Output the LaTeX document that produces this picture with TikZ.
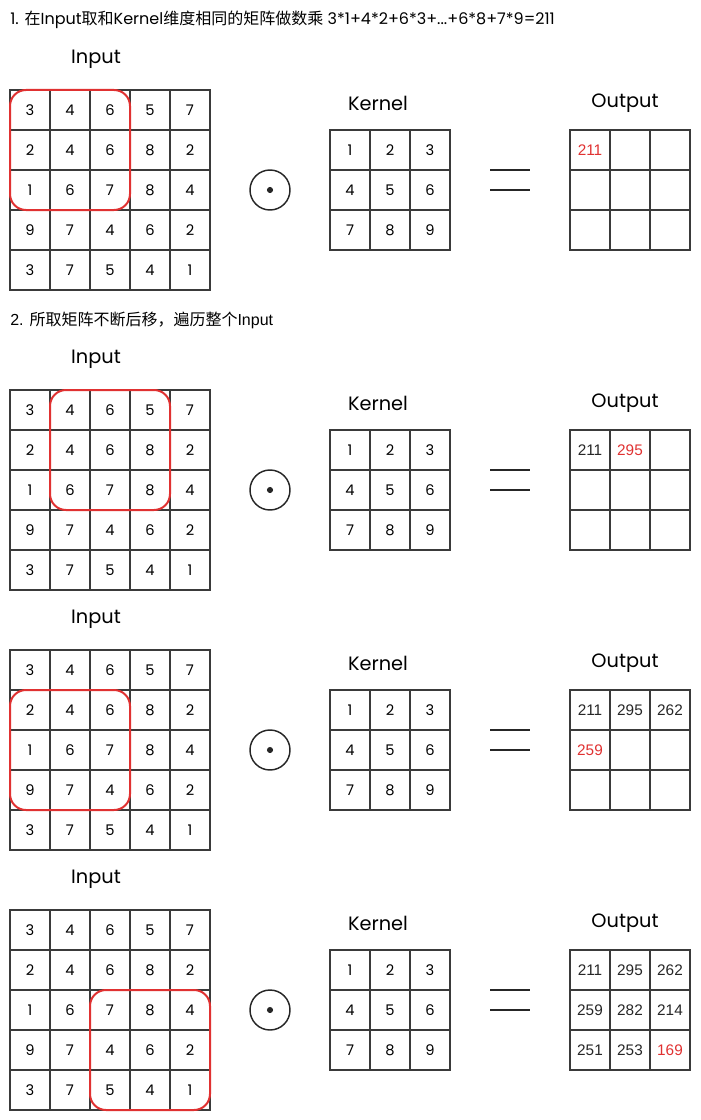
\documentclass[tikz,border=0pt]{standalone}
\usepackage{fontspec}
\setmainfont{Liberation Sans}
\newfontfamily\cjk{Noto Sans CJK SC}
\newfontfamily\hand{Poppins}
\usetikzlibrary{fit}

\definecolor{gridgray}{HTML}{3A3A3A}
\definecolor{markred}{HTML}{E03131}

\tikzset{
	cell/.style={draw=gridgray, line width=1.1pt, minimum size=30pt, inner sep=0pt, outer sep=0pt, font=\hand\fontsize{11}{11}\selectfont},
	window/.style={draw=markred, line width=1.5pt, rounded corners=12pt, inner sep=0pt},
	odot/.style={circle, draw=black!85, line width=1.1pt, minimum size=30pt, path picture={\fill[black!85] (path picture bounding box.center) circle (2.3pt);}},
	eqline/.style={draw=black!85, line width=1.1pt},
	lbl/.style={font=\hand\fontsize{14.5}{14.5}\selectfont},
	title/.style={anchor=west, inner sep=0pt, font=\fontsize{12}{13}\selectfont},
	val/.style={font=\fontsize{11.5}{12}\selectfont, text=black!85},
	valhot/.style={val, text=markred}
}

\begin{document}
\begin{tikzpicture}[x=0.75pt,y=-0.75pt]
	\useasboundingbox (0,0) rectangle (700,1120);

	\node[title] (t1) at (10,20) {{\hand 1.} {\cjk 在}{\hand Input}{\cjk 取和}{\hand Kernel}{\cjk 维度相同的矩阵做数乘}\ {\hand 3*1+4*2+6*3+...+6*8+7*9=211}};
	\node[title] (t2) at (10,320) {2. {\cjk 所取矩阵不断后移，遍历整个}Input};

	\foreach \p/\off in {1/0,2/300,3/560,4/820} {
		\node[lbl] (inlbl\p) at (96,59+\off) {Input};
		\node[lbl] (kerlbl\p) at (378,103+\off) {Kernel};
		\node[lbl] (outlbl\p) at (625,103+\off) {Output};

		\foreach \row [count=\r] in {{3,4,6,5,7},{2,4,6,8,2},{1,6,7,8,4},{9,7,4,6,2},{3,7,5,4,1}}
			\foreach \v [count=\c] in \row
				\node[cell] (in\p-\r-\c) at (40*\c-10,70+40*\r+\off) {\v};

		\foreach \row [count=\r] in {{1,2,3},{4,5,6},{7,8,9}}
			\foreach \v [count=\c] in \row
				\node[cell] (ker\p-\r-\c) at (310+40*\c,110+40*\r+\off) {\v};

		\foreach \r in {1,2,3}
			\foreach \c in {1,2,3}
				\node[cell] (out\p-\r-\c) at (550+40*\c,110+40*\r+\off) {};

		\node[odot] (dot\p) at (270,190+\off) {};
		\draw[eqline] (490,170+\off) -- (530,170+\off);
		\draw[eqline] (490,190+\off) -- (530,190+\off);
	}

	\node[window, fit=(in1-1-1)(in1-3-3)] (win1) {};
	\node[window, fit=(in2-1-2)(in2-3-4)] (win2) {};
	\node[window, fit=(in3-2-1)(in3-4-3)] (win3) {};
	\node[window, fit=(in4-3-3)(in4-5-5)] (win4) {};

	\node[valhot] (v1-11) at (out1-1-1) {211};

	\node[val] (v2-11) at (out2-1-1) {211};
	\node[valhot] (v2-12) at (out2-1-2) {295};

	\node[val] (v3-11) at (out3-1-1) {211};
	\node[val] (v3-12) at (out3-1-2) {295};
	\node[val] (v3-13) at (out3-1-3) {262};
	\node[valhot] (v3-21) at (out3-2-1) {259};

	\node[val] (v4-11) at (out4-1-1) {211};
	\node[val] (v4-12) at (out4-1-2) {295};
	\node[val] (v4-13) at (out4-1-3) {262};
	\node[val] (v4-21) at (out4-2-1) {259};
	\node[val] (v4-22) at (out4-2-2) {282};
	\node[val] (v4-23) at (out4-2-3) {214};
	\node[val] (v4-31) at (out4-3-1) {251};
	\node[val] (v4-32) at (out4-3-2) {253};
	\node[valhot] (v4-33) at (out4-3-3) {169};
\end{tikzpicture}
\end{document}
